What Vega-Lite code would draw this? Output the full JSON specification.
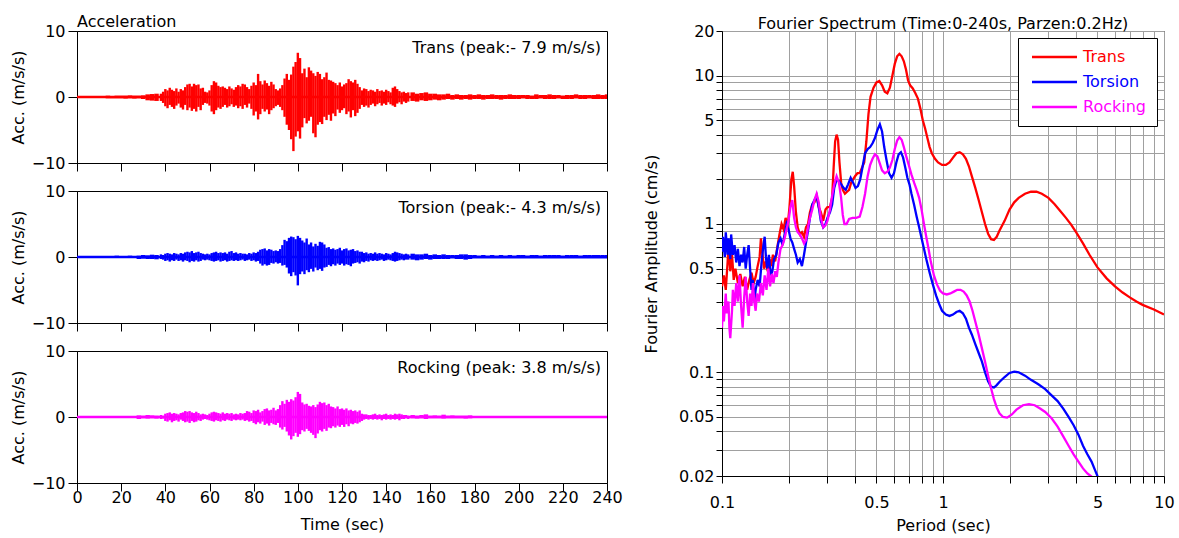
{
  "$schema": "https://vega.github.io/schema/vega-lite/v6.json",
  "background": "white",
  "padding": {"left": 9, "top": 13, "right": 5, "bottom": 5},
  "config": {
    "font": "DejaVu Sans",
    "view": {"stroke": "#000000", "strokeWidth": 1, "fill": "white"},
    "axis": {"labelFont": "DejaVu Sans", "titleFont": "DejaVu Sans", "labelFontSize": 16, "titleFontSize": 16, "titleFontWeight": "normal", "labelColor": "#000000", "titleColor": "#000000", "domainColor": "#000000", "tickColor": "#000000", "labelFlush": false, "labelOverlap": false, "grid": false},
    "title": {"font": "DejaVu Sans", "fontSize": 16, "fontWeight": "normal", "color": "#000000"}
  },
  "datasets": {
    "tc": [{"t":12,"l":-0.15,"h":0.15},{"t":14,"l":-0.2,"h":0.2},{"t":16,"l":-0.2,"h":0.15},{"t":18,"l":-0.2,"h":0.2},{"t":20,"l":-0.2,"h":0.2},{"t":22,"l":-0.25,"h":0.2},{"t":24,"l":-0.2,"h":0.25},{"t":26,"l":-0.25,"h":0.2},{"t":28,"l":-0.2,"h":0.2},{"t":30,"l":-0.3,"h":0.25},{"t":32,"l":-0.5,"h":0.4},{"t":34,"l":-0.55,"h":0.45},{"t":36,"l":-0.6,"h":0.5},
      {"t":152,"l":-0.6,"h":0.7},{"t":154,"l":-0.7,"h":0.5},{"t":156,"l":-0.5,"h":0.6},{"t":158,"l":-0.6,"h":0.7},{"t":160,"l":-0.5,"h":0.5},{"t":162,"l":-0.4,"h":0.5},{"t":164,"l":-0.5,"h":0.4},{"t":166,"l":-0.4,"h":0.4},{"t":168,"l":-0.3,"h":0.5},{"t":170,"l":-0.4,"h":0.3},{"t":172,"l":-0.3,"h":0.4},{"t":174,"l":-0.4,"h":0.3},{"t":176,"l":-0.3,"h":0.3},{"t":178,"l":-0.4,"h":0.4},{"t":180,"l":-0.3,"h":0.3},{"t":182,"l":-0.3,"h":0.4},{"t":184,"l":-0.4,"h":0.3},{"t":186,"l":-0.3,"h":0.3},{"t":188,"l":-0.3,"h":0.4},{"t":190,"l":-0.3,"h":0.3},{"t":192,"l":-0.4,"h":0.3},{"t":194,"l":-0.3,"h":0.3},{"t":196,"l":-0.3,"h":0.4},{"t":198,"l":-0.3,"h":0.3},{"t":200,"l":-0.3,"h":0.3},{"t":202,"l":-0.2,"h":0.3},{"t":204,"l":-0.3,"h":0.3},{"t":206,"l":-0.3,"h":0.2},{"t":208,"l":-0.3,"h":0.4},{"t":210,"l":-0.2,"h":0.3},{"t":212,"l":-0.3,"h":0.3},{"t":214,"l":-0.3,"h":0.4},{"t":216,"l":-0.3,"h":0.3},{"t":218,"l":-0.2,"h":0.3},{"t":220,"l":-0.3,"h":0.2},{"t":222,"l":-0.3,"h":0.3},{"t":224,"l":-0.3,"h":0.3},{"t":226,"l":-0.2,"h":0.4},{"t":228,"l":-0.3,"h":0.3},{"t":230,"l":-0.3,"h":0.3},{"t":232,"l":-0.2,"h":0.3},{"t":234,"l":-0.3,"h":0.3},{"t":236,"l":-0.3,"h":0.4},{"t":238,"l":-0.3,"h":0.3},{"t":240,"l":-0.3,"h":0.4}],
    "tf": [{"t":38,"l":-0.6,"h":0.5},{"t":39,"l":-0.9,"h":0.8},{"t":40,"l":-1.4,"h":1.2},{"t":41,"l":-1.7,"h":1.0},{"t":42,"l":-1.2,"h":1.4},{"t":43,"l":-1.5,"h":1.1},{"t":44,"l":-1.8,"h":0.9},{"t":45,"l":-1.3,"h":1.3},{"t":46,"l":-1.0,"h":0.8},{"t":47,"l":-1.6,"h":1.2},{"t":48,"l":-1.9,"h":1.0},{"t":49,"l":-1.2,"h":1.5},{"t":50,"l":-2.0,"h":1.9},{"t":51,"l":-1.6,"h":2.0},{"t":52,"l":-2.1,"h":1.6},{"t":53,"l":-1.8,"h":2.0},{"t":54,"l":-2.2,"h":1.8},{"t":55,"l":-1.5,"h":1.9},{"t":56,"l":-2.0,"h":1.3},{"t":57,"l":-1.2,"h":1.4},{"t":58,"l":-0.9,"h":0.8},{"t":59,"l":-1.0,"h":0.7},{"t":60,"l":-1.3,"h":1.0},{"t":61,"l":-2.2,"h":1.8},{"t":62,"l":-2.6,"h":2.4},{"t":63,"l":-2.0,"h":2.2},{"t":64,"l":-1.6,"h":1.7},{"t":65,"l":-1.8,"h":1.5},{"t":66,"l":-1.5,"h":1.6},{"t":67,"l":-1.2,"h":1.4},{"t":68,"l":-1.6,"h":1.2},{"t":69,"l":-1.4,"h":1.6},{"t":70,"l":-1.1,"h":1.3},{"t":71,"l":-1.5,"h":1.1},{"t":72,"l":-1.3,"h":1.5},{"t":73,"l":-1.7,"h":1.8},{"t":74,"l":-1.4,"h":1.6},{"t":75,"l":-1.8,"h":2.0},{"t":76,"l":-1.2,"h":1.9},{"t":77,"l":-1.6,"h":1.5},{"t":78,"l":-1.0,"h":1.2},{"t":79,"l":-1.8,"h":1.7},{"t":80,"l":-2.8,"h":2.2},{"t":81,"l":-2.2,"h":1.8},{"t":82,"l":-3.4,"h":3.5},{"t":83,"l":-2.6,"h":2.4},{"t":84,"l":-1.8,"h":1.9},{"t":85,"l":-2.2,"h":2.5},{"t":86,"l":-1.9,"h":2.1},{"t":87,"l":-2.6,"h":1.7},{"t":88,"l":-2.0,"h":2.3},{"t":89,"l":-1.7,"h":1.9},{"t":90,"l":-1.4,"h":1.2},{"t":91,"l":-1.2,"h":1.0},{"t":92,"l":-1.5,"h":1.3},{"t":93,"l":-2.0,"h":1.8},{"t":94,"l":-3.0,"h":2.8},{"t":95,"l":-4.2,"h":3.5},{"t":96,"l":-5.0,"h":2.6},{"t":97,"l":-6.4,"h":3.4},{"t":98,"l":-8.2,"h":4.6},{"t":99,"l":-6.0,"h":5.3},{"t":100,"l":-5.2,"h":6.7},{"t":101,"l":-6.3,"h":5.9},{"t":102,"l":-4.6,"h":3.6},{"t":103,"l":-3.2,"h":4.3},{"t":104,"l":-4.0,"h":3.0},{"t":105,"l":-3.6,"h":4.5},{"t":106,"l":-3.0,"h":4.0},{"t":107,"l":-5.5,"h":3.6},{"t":108,"l":-6.1,"h":3.2},{"t":109,"l":-4.2,"h":3.8},{"t":110,"l":-3.8,"h":3.5},{"t":111,"l":-4.1,"h":2.7},{"t":112,"l":-3.0,"h":3.0},{"t":113,"l":-3.5,"h":3.7},{"t":114,"l":-2.7,"h":2.6},{"t":115,"l":-3.6,"h":2.5},{"t":116,"l":-2.5,"h":2.3},{"t":117,"l":-2.9,"h":2.1},{"t":118,"l":-1.9,"h":1.8},{"t":119,"l":-2.4,"h":2.2},{"t":120,"l":-2.0,"h":1.6},{"t":121,"l":-1.7,"h":1.9},{"t":122,"l":-2.6,"h":2.1},{"t":123,"l":-2.2,"h":2.7},{"t":124,"l":-3.1,"h":2.4},{"t":125,"l":-2.0,"h":2.2},{"t":126,"l":-2.9,"h":2.6},{"t":127,"l":-2.4,"h":2.0},{"t":128,"l":-1.8,"h":1.5},{"t":129,"l":-1.2,"h":1.0},{"t":130,"l":-1.5,"h":1.3},{"t":131,"l":-1.3,"h":1.2},{"t":132,"l":-1.6,"h":0.9},{"t":133,"l":-1.2,"h":1.1},{"t":134,"l":-1.0,"h":1.0},{"t":135,"l":-1.4,"h":0.8},{"t":136,"l":-1.1,"h":1.2},{"t":137,"l":-0.9,"h":0.9},{"t":138,"l":-1.3,"h":1.0},{"t":139,"l":-1.0,"h":0.8},{"t":140,"l":-1.2,"h":1.1},{"t":141,"l":-0.8,"h":0.9},{"t":142,"l":-1.1,"h":0.7},{"t":143,"l":-1.3,"h":1.4},{"t":144,"l":-1.5,"h":1.6},{"t":145,"l":-1.0,"h":1.2},{"t":146,"l":-0.8,"h":0.9},{"t":147,"l":-1.1,"h":0.7},{"t":148,"l":-0.7,"h":0.8},{"t":149,"l":-0.9,"h":0.6},{"t":150,"l":-0.7,"h":0.7}],
    "oc": [{"t":12,"l":-0.1,"h":0.15},{"t":14,"l":-0.15,"h":0.15},{"t":16,"l":-0.1,"h":0.1},{"t":18,"l":-0.15,"h":0.2},{"t":20,"l":-0.1,"h":0.15},{"t":22,"l":-0.15,"h":0.15},{"t":24,"l":-0.1,"h":0.2},{"t":26,"l":-0.15,"h":0.15},{"t":28,"l":-0.3,"h":0.2},{"t":30,"l":-0.25,"h":0.3},{"t":32,"l":-0.3,"h":0.25},{"t":34,"l":-0.3,"h":0.35},{"t":36,"l":-0.35,"h":0.3},
      {"t":152,"l":-0.4,"h":0.5},{"t":154,"l":-0.5,"h":0.4},{"t":156,"l":-0.4,"h":0.4},{"t":158,"l":-0.3,"h":0.5},{"t":160,"l":-0.4,"h":0.3},{"t":162,"l":-0.3,"h":0.4},{"t":164,"l":-0.3,"h":0.3},{"t":166,"l":-0.3,"h":0.4},{"t":168,"l":-0.3,"h":0.3},{"t":170,"l":-0.2,"h":0.3},{"t":172,"l":-0.3,"h":0.3},{"t":174,"l":-0.3,"h":0.4},{"t":176,"l":-0.4,"h":0.4},{"t":178,"l":-0.3,"h":0.3},{"t":180,"l":-0.2,"h":0.3},{"t":182,"l":-0.2,"h":0.2},{"t":184,"l":-0.2,"h":0.3},{"t":186,"l":-0.2,"h":0.2},{"t":188,"l":-0.2,"h":0.3},{"t":190,"l":-0.2,"h":0.2},{"t":192,"l":-0.2,"h":0.3},{"t":194,"l":-0.2,"h":0.2},{"t":196,"l":-0.2,"h":0.3},{"t":198,"l":-0.2,"h":0.2},{"t":200,"l":-0.2,"h":0.3},{"t":202,"l":-0.2,"h":0.3},{"t":204,"l":-0.2,"h":0.2},{"t":206,"l":-0.2,"h":0.3},{"t":208,"l":-0.2,"h":0.3},{"t":210,"l":-0.2,"h":0.2},{"t":212,"l":-0.2,"h":0.3},{"t":214,"l":-0.2,"h":0.3},{"t":216,"l":-0.2,"h":0.3},{"t":218,"l":-0.2,"h":0.3},{"t":220,"l":-0.2,"h":0.2},{"t":222,"l":-0.2,"h":0.3},{"t":224,"l":-0.2,"h":0.3},{"t":226,"l":-0.2,"h":0.3},{"t":228,"l":-0.2,"h":0.2},{"t":230,"l":-0.2,"h":0.3},{"t":232,"l":-0.2,"h":0.3},{"t":234,"l":-0.2,"h":0.3},{"t":236,"l":-0.2,"h":0.3},{"t":238,"l":-0.2,"h":0.3},{"t":240,"l":-0.2,"h":0.3}],
    "of": [{"t":38,"l":-0.3,"h":0.4},{"t":39,"l":-0.4,"h":0.3},{"t":40,"l":-0.6,"h":0.5},{"t":41,"l":-0.5,"h":0.6},{"t":42,"l":-0.7,"h":0.5},{"t":43,"l":-0.5,"h":0.4},{"t":44,"l":-0.6,"h":0.6},{"t":45,"l":-0.4,"h":0.5},{"t":46,"l":-0.6,"h":0.4},{"t":47,"l":-0.5,"h":0.6},{"t":48,"l":-0.7,"h":0.5},{"t":49,"l":-0.5,"h":0.7},{"t":50,"l":-0.6,"h":0.8},{"t":51,"l":-0.8,"h":0.7},{"t":52,"l":-0.6,"h":0.9},{"t":53,"l":-0.7,"h":0.6},{"t":54,"l":-0.5,"h":0.7},{"t":55,"l":-0.7,"h":0.8},{"t":56,"l":-0.6,"h":0.6},{"t":57,"l":-0.4,"h":0.5},{"t":58,"l":-0.5,"h":0.4},{"t":59,"l":-0.4,"h":0.5},{"t":60,"l":-0.5,"h":0.4},{"t":61,"l":-0.6,"h":0.6},{"t":62,"l":-0.7,"h":0.7},{"t":63,"l":-0.6,"h":0.8},{"t":64,"l":-0.5,"h":0.6},{"t":65,"l":-0.7,"h":0.7},{"t":66,"l":-0.6,"h":0.6},{"t":67,"l":-0.5,"h":0.7},{"t":68,"l":-0.7,"h":0.5},{"t":69,"l":-0.6,"h":0.8},{"t":70,"l":-0.5,"h":0.9},{"t":71,"l":-0.6,"h":0.6},{"t":72,"l":-0.5,"h":0.7},{"t":73,"l":-0.6,"h":0.5},{"t":74,"l":-0.5,"h":0.6},{"t":75,"l":-0.4,"h":0.5},{"t":76,"l":-0.6,"h":0.5},{"t":77,"l":-0.5,"h":0.4},{"t":78,"l":-0.4,"h":0.6},{"t":79,"l":-0.6,"h":0.5},{"t":80,"l":-0.5,"h":0.7},{"t":81,"l":-0.7,"h":0.6},{"t":82,"l":-0.6,"h":0.8},{"t":83,"l":-1.0,"h":1.1},{"t":84,"l":-1.3,"h":1.2},{"t":85,"l":-1.1,"h":1.3},{"t":86,"l":-1.3,"h":1.0},{"t":87,"l":-1.2,"h":1.2},{"t":88,"l":-0.9,"h":1.1},{"t":89,"l":-1.0,"h":0.9},{"t":90,"l":-0.8,"h":1.0},{"t":91,"l":-1.0,"h":0.9},{"t":92,"l":-0.9,"h":1.2},{"t":93,"l":-1.3,"h":1.8},{"t":94,"l":-1.2,"h":2.6},{"t":95,"l":-1.6,"h":2.4},{"t":96,"l":-2.5,"h":2.9},{"t":97,"l":-2.9,"h":3.1},{"t":98,"l":-2.3,"h":3.0},{"t":99,"l":-2.8,"h":2.7},{"t":100,"l":-4.3,"h":3.2},{"t":101,"l":-2.6,"h":2.9},{"t":102,"l":-2.2,"h":2.5},{"t":103,"l":-2.6,"h":2.2},{"t":104,"l":-2.0,"h":2.8},{"t":105,"l":-2.3,"h":1.9},{"t":106,"l":-1.8,"h":2.2},{"t":107,"l":-2.2,"h":1.6},{"t":108,"l":-1.6,"h":2.0},{"t":109,"l":-2.0,"h":1.7},{"t":110,"l":-1.8,"h":2.3},{"t":111,"l":-2.1,"h":2.2},{"t":112,"l":-1.6,"h":1.9},{"t":113,"l":-1.5,"h":1.4},{"t":114,"l":-1.2,"h":1.5},{"t":115,"l":-1.4,"h":1.2},{"t":116,"l":-1.1,"h":1.3},{"t":117,"l":-1.3,"h":1.1},{"t":118,"l":-1.0,"h":1.2},{"t":119,"l":-1.2,"h":1.4},{"t":120,"l":-1.0,"h":1.0},{"t":121,"l":-1.3,"h":1.2},{"t":122,"l":-1.1,"h":1.3},{"t":123,"l":-1.2,"h":1.0},{"t":124,"l":-1.4,"h":1.1},{"t":125,"l":-1.0,"h":1.2},{"t":126,"l":-0.9,"h":0.9},{"t":127,"l":-0.8,"h":1.0},{"t":128,"l":-1.0,"h":0.8},{"t":129,"l":-0.7,"h":0.8},{"t":130,"l":-0.8,"h":0.6},{"t":131,"l":-0.6,"h":0.7},{"t":132,"l":-0.7,"h":0.5},{"t":133,"l":-0.5,"h":0.6},{"t":134,"l":-0.6,"h":0.5},{"t":135,"l":-0.5,"h":0.7},{"t":136,"l":-0.6,"h":0.5},{"t":137,"l":-0.5,"h":0.6},{"t":138,"l":-0.4,"h":0.5},{"t":139,"l":-0.6,"h":0.4},{"t":140,"l":-0.5,"h":0.6},{"t":141,"l":-0.4,"h":0.5},{"t":142,"l":-0.5,"h":0.4},{"t":143,"l":-0.6,"h":0.6},{"t":144,"l":-0.7,"h":0.8},{"t":145,"l":-0.6,"h":0.7},{"t":146,"l":-0.5,"h":0.6},{"t":147,"l":-0.4,"h":0.5},{"t":148,"l":-0.5,"h":0.4},{"t":149,"l":-0.4,"h":0.5},{"t":150,"l":-0.4,"h":0.4}],
    "rc": [{"t":26,"l":-0.15,"h":0.15},{"t":28,"l":-0.3,"h":0.25},{"t":30,"l":-0.2,"h":0.2},{"t":32,"l":-0.25,"h":0.3},{"t":34,"l":-0.2,"h":0.25},{"t":36,"l":-0.25,"h":0.2},
      {"t":152,"l":-0.2,"h":0.3},{"t":154,"l":-0.25,"h":0.2},{"t":156,"l":-0.2,"h":0.3},{"t":158,"l":-0.3,"h":0.4},{"t":160,"l":-0.2,"h":0.2},{"t":162,"l":-0.2,"h":0.25},{"t":164,"l":-0.2,"h":0.2},{"t":166,"l":-0.25,"h":0.35},{"t":168,"l":-0.2,"h":0.2},{"t":170,"l":-0.2,"h":0.25},{"t":172,"l":-0.2,"h":0.2},{"t":174,"l":-0.2,"h":0.2},{"t":176,"l":-0.25,"h":0.2},{"t":178,"l":-0.2,"h":0.25},{"t":180,"l":-0.15,"h":0.15}],
    "rf": [{"t":38,"l":-0.3,"h":0.3},{"t":39,"l":-0.25,"h":0.2},{"t":40,"l":-0.6,"h":0.5},{"t":41,"l":-0.7,"h":0.6},{"t":42,"l":-0.5,"h":0.7},{"t":43,"l":-0.8,"h":0.5},{"t":44,"l":-0.6,"h":0.6},{"t":45,"l":-0.5,"h":0.5},{"t":46,"l":-0.7,"h":0.4},{"t":47,"l":-0.4,"h":0.6},{"t":48,"l":-0.6,"h":0.7},{"t":49,"l":-0.8,"h":0.9},{"t":50,"l":-0.7,"h":0.8},{"t":51,"l":-0.9,"h":0.9},{"t":52,"l":-0.6,"h":0.7},{"t":53,"l":-0.8,"h":0.6},{"t":54,"l":-0.7,"h":0.8},{"t":55,"l":-0.5,"h":0.6},{"t":56,"l":-0.6,"h":0.4},{"t":57,"l":-0.4,"h":0.5},{"t":58,"l":-0.3,"h":0.4},{"t":59,"l":-0.4,"h":0.3},{"t":60,"l":-0.5,"h":0.5},{"t":61,"l":-0.6,"h":0.7},{"t":62,"l":-0.7,"h":0.8},{"t":63,"l":-0.5,"h":0.7},{"t":64,"l":-0.6,"h":0.6},{"t":65,"l":-0.7,"h":0.5},{"t":66,"l":-0.5,"h":0.7},{"t":67,"l":-0.6,"h":0.5},{"t":68,"l":-0.4,"h":0.6},{"t":69,"l":-0.5,"h":0.5},{"t":70,"l":-0.6,"h":0.6},{"t":71,"l":-0.4,"h":0.4},{"t":72,"l":-0.5,"h":0.5},{"t":73,"l":-0.4,"h":0.4},{"t":74,"l":-0.5,"h":0.6},{"t":75,"l":-0.4,"h":0.5},{"t":76,"l":-0.6,"h":0.6},{"t":77,"l":-0.5,"h":0.9},{"t":78,"l":-0.7,"h":0.8},{"t":79,"l":-0.6,"h":0.6},{"t":80,"l":-0.9,"h":1.0},{"t":81,"l":-1.1,"h":0.9},{"t":82,"l":-0.8,"h":1.1},{"t":83,"l":-1.0,"h":0.7},{"t":84,"l":-0.7,"h":0.9},{"t":85,"l":-1.2,"h":1.2},{"t":86,"l":-1.0,"h":1.3},{"t":87,"l":-1.3,"h":1.0},{"t":88,"l":-0.9,"h":1.1},{"t":89,"l":-1.1,"h":1.4},{"t":90,"l":-1.2,"h":1.0},{"t":91,"l":-0.9,"h":1.2},{"t":92,"l":-1.6,"h":1.8},{"t":93,"l":-1.9,"h":2.4},{"t":94,"l":-1.5,"h":2.0},{"t":95,"l":-2.2,"h":2.6},{"t":96,"l":-2.8,"h":2.3},{"t":97,"l":-3.4,"h":2.7},{"t":98,"l":-2.9,"h":2.5},{"t":99,"l":-2.4,"h":3.0},{"t":100,"l":-3.0,"h":3.8},{"t":101,"l":-2.6,"h":3.5},{"t":102,"l":-2.0,"h":2.2},{"t":103,"l":-2.2,"h":1.9},{"t":104,"l":-1.8,"h":2.0},{"t":105,"l":-2.1,"h":1.7},{"t":106,"l":-2.4,"h":1.6},{"t":107,"l":-2.7,"h":1.8},{"t":108,"l":-3.2,"h":1.5},{"t":109,"l":-2.5,"h":1.9},{"t":110,"l":-2.0,"h":2.3},{"t":111,"l":-2.2,"h":2.1},{"t":112,"l":-1.8,"h":2.2},{"t":113,"l":-2.1,"h":1.8},{"t":114,"l":-1.6,"h":2.0},{"t":115,"l":-1.7,"h":1.6},{"t":116,"l":-1.4,"h":1.5},{"t":117,"l":-1.6,"h":1.3},{"t":118,"l":-1.3,"h":1.6},{"t":119,"l":-1.5,"h":1.2},{"t":120,"l":-1.2,"h":1.3},{"t":121,"l":-1.5,"h":1.1},{"t":122,"l":-1.1,"h":1.3},{"t":123,"l":-1.4,"h":1.0},{"t":124,"l":-1.0,"h":1.1},{"t":125,"l":-1.1,"h":0.9},{"t":126,"l":-0.9,"h":1.0},{"t":127,"l":-1.0,"h":0.8},{"t":128,"l":-0.8,"h":1.0},{"t":129,"l":-0.6,"h":0.5},{"t":130,"l":-0.4,"h":0.4},{"t":131,"l":-0.3,"h":0.4},{"t":132,"l":-0.4,"h":0.3},{"t":133,"l":-0.3,"h":0.3},{"t":134,"l":-0.4,"h":0.4},{"t":135,"l":-0.3,"h":0.5},{"t":136,"l":-0.4,"h":0.3},{"t":137,"l":-0.3,"h":0.4},{"t":138,"l":-0.5,"h":0.3},{"t":139,"l":-0.3,"h":0.4},{"t":140,"l":-0.4,"h":0.5},{"t":141,"l":-0.3,"h":0.3},{"t":142,"l":-0.4,"h":0.4},{"t":143,"l":-0.3,"h":0.3},{"t":144,"l":-0.4,"h":0.5},{"t":145,"l":-0.3,"h":0.4},{"t":146,"l":-0.5,"h":0.5},{"t":147,"l":-0.3,"h":0.4},{"t":148,"l":-0.3,"h":0.3},{"t":149,"l":-0.2,"h":0.3},{"t":150,"l":-0.3,"h":0.2}],
    "spec": [
      {"s":"Trans","p":0.1,"a":0.38},{"s":"Trans","p":0.102,"a":0.45},{"s":"Trans","p":0.104,"a":0.36},{"s":"Trans","p":0.106,"a":0.55},{"s":"Trans","p":0.107,"a":0.72},{"s":"Trans","p":0.109,"a":0.48},{"s":"Trans","p":0.111,"a":0.62},{"s":"Trans","p":0.113,"a":0.42},{"s":"Trans","p":0.115,"a":0.5},{"s":"Trans","p":0.118,"a":0.4},{"s":"Trans","p":0.121,"a":0.46},{"s":"Trans","p":0.124,"a":0.38},{"s":"Trans","p":0.127,"a":0.44},{"s":"Trans","p":0.13,"a":0.36},{"s":"Trans","p":0.133,"a":0.42},{"s":"Trans","p":0.136,"a":0.47},{"s":"Trans","p":0.139,"a":0.4},{"s":"Trans","p":0.142,"a":0.44},{"s":"Trans","p":0.145,"a":0.52},{"s":"Trans","p":0.148,"a":0.6},{"s":"Trans","p":0.15,"a":0.8},{"s":"Trans","p":0.152,"a":0.65},{"s":"Trans","p":0.155,"a":0.5},{"s":"Trans","p":0.158,"a":0.56},{"s":"Trans","p":0.161,"a":0.48},{"s":"Trans","p":0.164,"a":0.58},{"s":"Trans","p":0.167,"a":0.52},{"s":"Trans","p":0.17,"a":0.62},{"s":"Trans","p":0.174,"a":0.56},{"s":"Trans","p":0.178,"a":0.7},{"s":"Trans","p":0.182,"a":0.85},{"s":"Trans","p":0.186,"a":1.0},{"s":"Trans","p":0.19,"a":0.92},{"s":"Trans","p":0.194,"a":1.1},{"s":"Trans","p":0.198,"a":0.95},{"s":"Trans","p":0.202,"a":1.3},{"s":"Trans","p":0.206,"a":2.0},{"s":"Trans","p":0.209,"a":2.25},{"s":"Trans","p":0.212,"a":1.8},{"s":"Trans","p":0.216,"a":1.2},{"s":"Trans","p":0.22,"a":0.95},{"s":"Trans","p":0.225,"a":0.85},{"s":"Trans","p":0.23,"a":0.88},{"s":"Trans","p":0.235,"a":0.82},{"s":"Trans","p":0.24,"a":0.95},{"s":"Trans","p":0.245,"a":1.0},{"s":"Trans","p":0.25,"a":1.2},{"s":"Trans","p":0.256,"a":1.35},{"s":"Trans","p":0.262,"a":1.4},{"s":"Trans","p":0.268,"a":1.55},{"s":"Trans","p":0.274,"a":1.3},{"s":"Trans","p":0.28,"a":1.2},{"s":"Trans","p":0.287,"a":1.05},{"s":"Trans","p":0.294,"a":1.25},{"s":"Trans","p":0.3,"a":1.3},{"s":"Trans","p":0.308,"a":1.3},{"s":"Trans","p":0.315,"a":1.5},{"s":"Trans","p":0.32,"a":2.4},{"s":"Trans","p":0.325,"a":3.6},{"s":"Trans","p":0.33,"a":4.0},{"s":"Trans","p":0.335,"a":3.7},{"s":"Trans","p":0.34,"a":2.6},{"s":"Trans","p":0.346,"a":1.9},{"s":"Trans","p":0.352,"a":1.7},{"s":"Trans","p":0.36,"a":1.6},{"s":"Trans","p":0.368,"a":1.65},{"s":"Trans","p":0.376,"a":1.7},{"s":"Trans","p":0.384,"a":1.9},{"s":"Trans","p":0.392,"a":2.0},{"s":"Trans","p":0.4,"a":2.1},{"s":"Trans","p":0.41,"a":2.2},{"s":"Trans","p":0.42,"a":2.2},{"s":"Trans","p":0.43,"a":2.4},{"s":"Trans","p":0.44,"a":2.6},{"s":"Trans","p":0.45,"a":3.6},{"s":"Trans","p":0.46,"a":5.5},{"s":"Trans","p":0.47,"a":7.2},{"s":"Trans","p":0.485,"a":8.3},{"s":"Trans","p":0.5,"a":9.0},{"s":"Trans","p":0.515,"a":9.2},{"s":"Trans","p":0.53,"a":8.6},{"s":"Trans","p":0.545,"a":7.8},{"s":"Trans","p":0.56,"a":7.6},{"s":"Trans","p":0.575,"a":8.3},{"s":"Trans","p":0.59,"a":10.0},{"s":"Trans","p":0.605,"a":12.0},{"s":"Trans","p":0.62,"a":13.5},{"s":"Trans","p":0.635,"a":14.0},{"s":"Trans","p":0.65,"a":13.5},{"s":"Trans","p":0.665,"a":12.5},{"s":"Trans","p":0.68,"a":11.0},{"s":"Trans","p":0.695,"a":9.3},{"s":"Trans","p":0.71,"a":8.6},{"s":"Trans","p":0.73,"a":8.2},{"s":"Trans","p":0.75,"a":7.6},{"s":"Trans","p":0.77,"a":7.0},{"s":"Trans","p":0.79,"a":6.0},{"s":"Trans","p":0.81,"a":5.0},{"s":"Trans","p":0.83,"a":4.4},{"s":"Trans","p":0.85,"a":3.8},{"s":"Trans","p":0.87,"a":3.3},{"s":"Trans","p":0.89,"a":3.0},{"s":"Trans","p":0.92,"a":2.75},{"s":"Trans","p":0.95,"a":2.6},{"s":"Trans","p":0.99,"a":2.5},{"s":"Trans","p":1.03,"a":2.5},{"s":"Trans","p":1.07,"a":2.6},{"s":"Trans","p":1.11,"a":2.8},{"s":"Trans","p":1.15,"a":3.0},{"s":"Trans","p":1.19,"a":3.05},{"s":"Trans","p":1.23,"a":2.95},{"s":"Trans","p":1.27,"a":2.75},{"s":"Trans","p":1.31,"a":2.45},{"s":"Trans","p":1.35,"a":2.1},{"s":"Trans","p":1.4,"a":1.75},{"s":"Trans","p":1.45,"a":1.45},{"s":"Trans","p":1.5,"a":1.2},{"s":"Trans","p":1.55,"a":1.0},{"s":"Trans","p":1.6,"a":0.86},{"s":"Trans","p":1.65,"a":0.79},{"s":"Trans","p":1.7,"a":0.78},{"s":"Trans","p":1.75,"a":0.82},{"s":"Trans","p":1.8,"a":0.9},{"s":"Trans","p":1.9,"a":1.05},{"s":"Trans","p":2.0,"a":1.25},{"s":"Trans","p":2.1,"a":1.4},{"s":"Trans","p":2.2,"a":1.5},{"s":"Trans","p":2.35,"a":1.6},{"s":"Trans","p":2.5,"a":1.65},{"s":"Trans","p":2.65,"a":1.65},{"s":"Trans","p":2.8,"a":1.6},{"s":"Trans","p":3.0,"a":1.5},{"s":"Trans","p":3.2,"a":1.36},{"s":"Trans","p":3.4,"a":1.22},{"s":"Trans","p":3.6,"a":1.1},{"s":"Trans","p":3.8,"a":0.99},{"s":"Trans","p":4.0,"a":0.88},{"s":"Trans","p":4.3,"a":0.74},{"s":"Trans","p":4.6,"a":0.62},{"s":"Trans","p":5.0,"a":0.51},{"s":"Trans","p":5.5,"a":0.43},{"s":"Trans","p":6.0,"a":0.38},{"s":"Trans","p":6.5,"a":0.345},{"s":"Trans","p":7.0,"a":0.32},{"s":"Trans","p":7.5,"a":0.3},{"s":"Trans","p":8.0,"a":0.285},{"s":"Trans","p":9.0,"a":0.265},{"s":"Trans","p":10.0,"a":0.245},
      {"s":"Torsion","p":0.1,"a":0.65},{"s":"Torsion","p":0.101,"a":0.82},{"s":"Torsion","p":0.103,"a":0.6},{"s":"Torsion","p":0.104,"a":0.88},{"s":"Torsion","p":0.106,"a":0.62},{"s":"Torsion","p":0.107,"a":0.8},{"s":"Torsion","p":0.109,"a":0.58},{"s":"Torsion","p":0.11,"a":0.85},{"s":"Torsion","p":0.112,"a":0.62},{"s":"Torsion","p":0.114,"a":0.72},{"s":"Torsion","p":0.116,"a":0.55},{"s":"Torsion","p":0.118,"a":0.68},{"s":"Torsion","p":0.12,"a":0.52},{"s":"Torsion","p":0.122,"a":0.62},{"s":"Torsion","p":0.124,"a":0.55},{"s":"Torsion","p":0.126,"a":0.7},{"s":"Torsion","p":0.128,"a":0.5},{"s":"Torsion","p":0.13,"a":0.62},{"s":"Torsion","p":0.132,"a":0.72},{"s":"Torsion","p":0.134,"a":0.5},{"s":"Torsion","p":0.136,"a":0.36},{"s":"Torsion","p":0.138,"a":0.42},{"s":"Torsion","p":0.14,"a":0.3},{"s":"Torsion","p":0.142,"a":0.36},{"s":"Torsion","p":0.145,"a":0.42},{"s":"Torsion","p":0.148,"a":0.38},{"s":"Torsion","p":0.151,"a":0.55},{"s":"Torsion","p":0.154,"a":0.72},{"s":"Torsion","p":0.156,"a":0.82},{"s":"Torsion","p":0.158,"a":0.6},{"s":"Torsion","p":0.16,"a":0.5},{"s":"Torsion","p":0.163,"a":0.62},{"s":"Torsion","p":0.166,"a":0.45},{"s":"Torsion","p":0.169,"a":0.48},{"s":"Torsion","p":0.172,"a":0.58},{"s":"Torsion","p":0.176,"a":0.62},{"s":"Torsion","p":0.18,"a":0.75},{"s":"Torsion","p":0.184,"a":0.8},{"s":"Torsion","p":0.188,"a":0.72},{"s":"Torsion","p":0.192,"a":0.85},{"s":"Torsion","p":0.196,"a":1.0},{"s":"Torsion","p":0.2,"a":0.92},{"s":"Torsion","p":0.204,"a":0.8},{"s":"Torsion","p":0.208,"a":0.75},{"s":"Torsion","p":0.212,"a":0.68},{"s":"Torsion","p":0.216,"a":0.62},{"s":"Torsion","p":0.22,"a":0.55},{"s":"Torsion","p":0.225,"a":0.58},{"s":"Torsion","p":0.23,"a":0.52},{"s":"Torsion","p":0.235,"a":0.62},{"s":"Torsion","p":0.24,"a":0.75},{"s":"Torsion","p":0.245,"a":0.9},{"s":"Torsion","p":0.25,"a":1.1},{"s":"Torsion","p":0.256,"a":1.35},{"s":"Torsion","p":0.262,"a":1.45},{"s":"Torsion","p":0.268,"a":1.55},{"s":"Torsion","p":0.274,"a":1.3},{"s":"Torsion","p":0.28,"a":1.05},{"s":"Torsion","p":0.287,"a":0.95},{"s":"Torsion","p":0.294,"a":1.0},{"s":"Torsion","p":0.3,"a":1.1},{"s":"Torsion","p":0.308,"a":1.2},{"s":"Torsion","p":0.315,"a":1.35},{"s":"Torsion","p":0.322,"a":1.75},{"s":"Torsion","p":0.33,"a":2.0},{"s":"Torsion","p":0.338,"a":1.95},{"s":"Torsion","p":0.346,"a":1.85},{"s":"Torsion","p":0.355,"a":1.75},{"s":"Torsion","p":0.363,"a":1.7},{"s":"Torsion","p":0.372,"a":1.85},{"s":"Torsion","p":0.382,"a":2.05},{"s":"Torsion","p":0.392,"a":1.9},{"s":"Torsion","p":0.402,"a":1.75},{"s":"Torsion","p":0.412,"a":1.8},{"s":"Torsion","p":0.422,"a":2.0},{"s":"Torsion","p":0.432,"a":2.4},{"s":"Torsion","p":0.444,"a":3.0},{"s":"Torsion","p":0.456,"a":3.2},{"s":"Torsion","p":0.468,"a":3.3},{"s":"Torsion","p":0.48,"a":3.5},{"s":"Torsion","p":0.492,"a":3.8},{"s":"Torsion","p":0.505,"a":4.3},{"s":"Torsion","p":0.518,"a":4.7},{"s":"Torsion","p":0.53,"a":4.2},{"s":"Torsion","p":0.542,"a":3.3},{"s":"Torsion","p":0.555,"a":2.7},{"s":"Torsion","p":0.57,"a":2.2},{"s":"Torsion","p":0.585,"a":2.05},{"s":"Torsion","p":0.6,"a":2.2},{"s":"Torsion","p":0.615,"a":2.6},{"s":"Torsion","p":0.63,"a":2.95},{"s":"Torsion","p":0.645,"a":3.05},{"s":"Torsion","p":0.66,"a":2.8},{"s":"Torsion","p":0.675,"a":2.4},{"s":"Torsion","p":0.69,"a":2.05},{"s":"Torsion","p":0.705,"a":1.85},{"s":"Torsion","p":0.72,"a":1.6},{"s":"Torsion","p":0.74,"a":1.35},{"s":"Torsion","p":0.76,"a":1.12},{"s":"Torsion","p":0.78,"a":0.95},{"s":"Torsion","p":0.8,"a":0.8},{"s":"Torsion","p":0.82,"a":0.68},{"s":"Torsion","p":0.84,"a":0.58},{"s":"Torsion","p":0.87,"a":0.47},{"s":"Torsion","p":0.9,"a":0.39},{"s":"Torsion","p":0.93,"a":0.33},{"s":"Torsion","p":0.96,"a":0.29},{"s":"Torsion","p":0.99,"a":0.26},{"s":"Torsion","p":1.03,"a":0.245},{"s":"Torsion","p":1.07,"a":0.24},{"s":"Torsion","p":1.11,"a":0.245},{"s":"Torsion","p":1.15,"a":0.255},{"s":"Torsion","p":1.19,"a":0.26},{"s":"Torsion","p":1.23,"a":0.25},{"s":"Torsion","p":1.27,"a":0.23},{"s":"Torsion","p":1.31,"a":0.2},{"s":"Torsion","p":1.35,"a":0.18},{"s":"Torsion","p":1.4,"a":0.155},{"s":"Torsion","p":1.45,"a":0.135},{"s":"Torsion","p":1.5,"a":0.118},{"s":"Torsion","p":1.55,"a":0.1},{"s":"Torsion","p":1.6,"a":0.087},{"s":"Torsion","p":1.65,"a":0.08},{"s":"Torsion","p":1.7,"a":0.079},{"s":"Torsion","p":1.75,"a":0.082},{"s":"Torsion","p":1.8,"a":0.086},{"s":"Torsion","p":1.9,"a":0.093},{"s":"Torsion","p":2.0,"a":0.099},{"s":"Torsion","p":2.1,"a":0.101},{"s":"Torsion","p":2.2,"a":0.1},{"s":"Torsion","p":2.35,"a":0.095},{"s":"Torsion","p":2.5,"a":0.089},{"s":"Torsion","p":2.7,"a":0.083},{"s":"Torsion","p":2.9,"a":0.077},{"s":"Torsion","p":3.1,"a":0.07},{"s":"Torsion","p":3.3,"a":0.064},{"s":"Torsion","p":3.5,"a":0.057},{"s":"Torsion","p":3.7,"a":0.05},{"s":"Torsion","p":3.9,"a":0.044},{"s":"Torsion","p":4.1,"a":0.038},{"s":"Torsion","p":4.3,"a":0.032},{"s":"Torsion","p":4.5,"a":0.028},{"s":"Torsion","p":4.7,"a":0.025},{"s":"Torsion","p":4.9,"a":0.0215},{"s":"Torsion","p":5.0,"a":0.02},{"s":"Torsion","p":5.1,"a":0.019},
      {"s":"Rocking","p":0.1,"a":0.2},{"s":"Rocking","p":0.101,"a":0.28},{"s":"Rocking","p":0.102,"a":0.22},{"s":"Rocking","p":0.104,"a":0.34},{"s":"Rocking","p":0.105,"a":0.25},{"s":"Rocking","p":0.107,"a":0.3},{"s":"Rocking","p":0.108,"a":0.2},{"s":"Rocking","p":0.109,"a":0.17},{"s":"Rocking","p":0.111,"a":0.26},{"s":"Rocking","p":0.112,"a":0.36},{"s":"Rocking","p":0.114,"a":0.28},{"s":"Rocking","p":0.116,"a":0.4},{"s":"Rocking","p":0.118,"a":0.3},{"s":"Rocking","p":0.12,"a":0.45},{"s":"Rocking","p":0.122,"a":0.28},{"s":"Rocking","p":0.124,"a":0.2},{"s":"Rocking","p":0.126,"a":0.32},{"s":"Rocking","p":0.128,"a":0.44},{"s":"Rocking","p":0.13,"a":0.3},{"s":"Rocking","p":0.132,"a":0.24},{"s":"Rocking","p":0.134,"a":0.34},{"s":"Rocking","p":0.136,"a":0.28},{"s":"Rocking","p":0.138,"a":0.4},{"s":"Rocking","p":0.14,"a":0.3},{"s":"Rocking","p":0.142,"a":0.26},{"s":"Rocking","p":0.144,"a":0.34},{"s":"Rocking","p":0.147,"a":0.3},{"s":"Rocking","p":0.15,"a":0.4},{"s":"Rocking","p":0.153,"a":0.33},{"s":"Rocking","p":0.156,"a":0.45},{"s":"Rocking","p":0.159,"a":0.36},{"s":"Rocking","p":0.162,"a":0.5},{"s":"Rocking","p":0.165,"a":0.38},{"s":"Rocking","p":0.168,"a":0.46},{"s":"Rocking","p":0.171,"a":0.4},{"s":"Rocking","p":0.174,"a":0.48},{"s":"Rocking","p":0.177,"a":0.44},{"s":"Rocking","p":0.18,"a":0.55},{"s":"Rocking","p":0.184,"a":0.68},{"s":"Rocking","p":0.188,"a":0.72},{"s":"Rocking","p":0.192,"a":0.8},{"s":"Rocking","p":0.196,"a":0.92},{"s":"Rocking","p":0.2,"a":1.05},{"s":"Rocking","p":0.204,"a":1.3},{"s":"Rocking","p":0.208,"a":1.45},{"s":"Rocking","p":0.212,"a":1.1},{"s":"Rocking","p":0.216,"a":0.95},{"s":"Rocking","p":0.22,"a":0.88},{"s":"Rocking","p":0.225,"a":0.85},{"s":"Rocking","p":0.23,"a":0.8},{"s":"Rocking","p":0.235,"a":0.74},{"s":"Rocking","p":0.24,"a":0.78},{"s":"Rocking","p":0.245,"a":0.95},{"s":"Rocking","p":0.25,"a":1.1},{"s":"Rocking","p":0.256,"a":1.25},{"s":"Rocking","p":0.262,"a":1.45},{"s":"Rocking","p":0.268,"a":1.6},{"s":"Rocking","p":0.274,"a":1.4},{"s":"Rocking","p":0.28,"a":1.1},{"s":"Rocking","p":0.287,"a":0.95},{"s":"Rocking","p":0.294,"a":0.98},{"s":"Rocking","p":0.3,"a":1.05},{"s":"Rocking","p":0.308,"a":1.25},{"s":"Rocking","p":0.315,"a":1.55},{"s":"Rocking","p":0.322,"a":1.85},{"s":"Rocking","p":0.33,"a":2.1},{"s":"Rocking","p":0.338,"a":1.9},{"s":"Rocking","p":0.346,"a":1.5},{"s":"Rocking","p":0.352,"a":1.15},{"s":"Rocking","p":0.358,"a":1.0},{"s":"Rocking","p":0.366,"a":1.0},{"s":"Rocking","p":0.376,"a":1.08},{"s":"Rocking","p":0.39,"a":1.1},{"s":"Rocking","p":0.405,"a":1.1},{"s":"Rocking","p":0.42,"a":1.12},{"s":"Rocking","p":0.432,"a":1.3},{"s":"Rocking","p":0.444,"a":1.6},{"s":"Rocking","p":0.456,"a":2.1},{"s":"Rocking","p":0.468,"a":2.5},{"s":"Rocking","p":0.48,"a":2.75},{"s":"Rocking","p":0.492,"a":2.95},{"s":"Rocking","p":0.505,"a":2.85},{"s":"Rocking","p":0.518,"a":2.55},{"s":"Rocking","p":0.53,"a":2.3},{"s":"Rocking","p":0.545,"a":2.2},{"s":"Rocking","p":0.56,"a":2.25},{"s":"Rocking","p":0.575,"a":2.4},{"s":"Rocking","p":0.59,"a":2.7},{"s":"Rocking","p":0.605,"a":3.2},{"s":"Rocking","p":0.62,"a":3.65},{"s":"Rocking","p":0.635,"a":3.85},{"s":"Rocking","p":0.65,"a":3.7},{"s":"Rocking","p":0.665,"a":3.3},{"s":"Rocking","p":0.68,"a":2.9},{"s":"Rocking","p":0.7,"a":2.5},{"s":"Rocking","p":0.72,"a":2.15},{"s":"Rocking","p":0.74,"a":1.9},{"s":"Rocking","p":0.76,"a":1.7},{"s":"Rocking","p":0.78,"a":1.5},{"s":"Rocking","p":0.8,"a":1.25},{"s":"Rocking","p":0.82,"a":1.0},{"s":"Rocking","p":0.84,"a":0.82},{"s":"Rocking","p":0.86,"a":0.68},{"s":"Rocking","p":0.88,"a":0.56},{"s":"Rocking","p":0.91,"a":0.45},{"s":"Rocking","p":0.94,"a":0.39},{"s":"Rocking","p":0.97,"a":0.355},{"s":"Rocking","p":1.0,"a":0.34},{"s":"Rocking","p":1.04,"a":0.335},{"s":"Rocking","p":1.08,"a":0.34},{"s":"Rocking","p":1.12,"a":0.35},{"s":"Rocking","p":1.16,"a":0.36},{"s":"Rocking","p":1.2,"a":0.36},{"s":"Rocking","p":1.24,"a":0.35},{"s":"Rocking","p":1.28,"a":0.33},{"s":"Rocking","p":1.32,"a":0.3},{"s":"Rocking","p":1.36,"a":0.26},{"s":"Rocking","p":1.4,"a":0.22},{"s":"Rocking","p":1.45,"a":0.18},{"s":"Rocking","p":1.5,"a":0.145},{"s":"Rocking","p":1.55,"a":0.118},{"s":"Rocking","p":1.6,"a":0.095},{"s":"Rocking","p":1.65,"a":0.078},{"s":"Rocking","p":1.7,"a":0.066},{"s":"Rocking","p":1.75,"a":0.058},{"s":"Rocking","p":1.8,"a":0.053},{"s":"Rocking","p":1.87,"a":0.05},{"s":"Rocking","p":1.95,"a":0.0495},{"s":"Rocking","p":2.05,"a":0.052},{"s":"Rocking","p":2.15,"a":0.056},{"s":"Rocking","p":2.3,"a":0.06},{"s":"Rocking","p":2.45,"a":0.061},{"s":"Rocking","p":2.6,"a":0.06},{"s":"Rocking","p":2.75,"a":0.057},{"s":"Rocking","p":2.9,"a":0.054},{"s":"Rocking","p":3.1,"a":0.049},{"s":"Rocking","p":3.3,"a":0.043},{"s":"Rocking","p":3.5,"a":0.037},{"s":"Rocking","p":3.7,"a":0.032},{"s":"Rocking","p":3.9,"a":0.028},{"s":"Rocking","p":4.1,"a":0.025},{"s":"Rocking","p":4.3,"a":0.0225},{"s":"Rocking","p":4.5,"a":0.0208},{"s":"Rocking","p":4.7,"a":0.0198},{"s":"Rocking","p":4.8,"a":0.019}
    ]
  },
  "hconcat": [
    {
      "vconcat": [
        {
          "width": 530, "height": 132,
          "title": {"text": "Acceleration", "anchor": "start", "frame": "group", "offset": -7},
          "layer": [
            {"data": {"values": [{}]}, "mark": {"type": "rule", "color": "#ff0000", "strokeWidth": 2.5}, "encoding": {"y": {"datum": 0, "type": "quantitative"}}},
            {"data": {"name": "tf"}, "mark": {"type": "rule", "color": "#ff0000", "strokeWidth": 2.4, "clip": true},
             "encoding": {
               "x": {"field": "t", "type": "quantitative", "scale": {"domain": [0, 240], "nice": false}, "axis": {"title": null, "values": [0,10,20,30,40,50,60,70,80,90,100,110,120,130,140,150,160,170,180,190,200,210,220,230,240], "labels": false, "tickSize": 8}},
               "y": {"field": "l", "type": "quantitative", "scale": {"domain": [-10, 10], "nice": false}, "axis": {"title": "Acc. (m/s/s)", "values": [-10,-5,0,5,10], "labelExpr": "datum.value % 10 == 0 ? datum.label : ''", "tickSize": 9, "labelPadding": 3, "titlePadding": 5}},
               "y2": {"field": "h"}}},
            {"data": {"name": "tc"}, "mark": {"type": "rule", "color": "#ff0000", "strokeWidth": 4.5, "clip": true},
             "encoding": {
               "x": {"field": "t", "type": "quantitative", "scale": {"domain": [0, 240], "nice": false}, "axis": {"title": null, "values": [0,10,20,30,40,50,60,70,80,90,100,110,120,130,140,150,160,170,180,190,200,210,220,230,240], "labels": false, "tickSize": 8}},
               "y": {"field": "l", "type": "quantitative", "scale": {"domain": [-10, 10], "nice": false}, "axis": {"title": "Acc. (m/s/s)", "values": [-10,-5,0,5,10], "labelExpr": "datum.value % 10 == 0 ? datum.label : ''", "tickSize": 9, "labelPadding": 3, "titlePadding": 5}},
               "y2": {"field": "h"}}},
            {"data": {"values": [{}]}, "mark": {"type": "text", "align": "right", "baseline": "middle", "dx": -6, "fontSize": 16, "color": "#000000"},
             "encoding": {"x": {"datum": 240, "type": "quantitative"}, "y": {"datum": 7.5, "type": "quantitative"}, "text": {"value": "Trans (peak:- 7.9 m/s/s)"}}}
          ]
        },
        {
          "width": 530, "height": 132,
          "layer": [
            {"data": {"values": [{}]}, "mark": {"type": "rule", "color": "#0000ff", "strokeWidth": 2.5}, "encoding": {"y": {"datum": 0, "type": "quantitative"}}},
            {"data": {"name": "of"}, "mark": {"type": "rule", "color": "#0000ff", "strokeWidth": 2.4, "clip": true},
             "encoding": {
               "x": {"field": "t", "type": "quantitative", "scale": {"domain": [0, 240], "nice": false}, "axis": {"title": null, "values": [0,10,20,30,40,50,60,70,80,90,100,110,120,130,140,150,160,170,180,190,200,210,220,230,240], "labels": false, "tickSize": 8}},
               "y": {"field": "l", "type": "quantitative", "scale": {"domain": [-10, 10], "nice": false}, "axis": {"title": "Acc. (m/s/s)", "values": [-10,-5,0,5,10], "labelExpr": "datum.value % 10 == 0 ? datum.label : ''", "tickSize": 9, "labelPadding": 3, "titlePadding": 5}},
               "y2": {"field": "h"}}},
            {"data": {"name": "oc"}, "mark": {"type": "rule", "color": "#0000ff", "strokeWidth": 4.5, "clip": true},
             "encoding": {
               "x": {"field": "t", "type": "quantitative", "scale": {"domain": [0, 240], "nice": false}, "axis": {"title": null, "values": [0,10,20,30,40,50,60,70,80,90,100,110,120,130,140,150,160,170,180,190,200,210,220,230,240], "labels": false, "tickSize": 8}},
               "y": {"field": "l", "type": "quantitative", "scale": {"domain": [-10, 10], "nice": false}, "axis": {"title": "Acc. (m/s/s)", "values": [-10,-5,0,5,10], "labelExpr": "datum.value % 10 == 0 ? datum.label : ''", "tickSize": 9, "labelPadding": 3, "titlePadding": 5}},
               "y2": {"field": "h"}}},
            {"data": {"values": [{}]}, "mark": {"type": "text", "align": "right", "baseline": "middle", "dx": -6, "fontSize": 16, "color": "#000000"},
             "encoding": {"x": {"datum": 240, "type": "quantitative"}, "y": {"datum": 7.5, "type": "quantitative"}, "text": {"value": "Torsion (peak:- 4.3 m/s/s)"}}}
          ]
        },
        {
          "width": 530, "height": 132,
          "layer": [
            {"data": {"values": [{}]}, "mark": {"type": "rule", "color": "#ff00ff", "strokeWidth": 2.5}, "encoding": {"y": {"datum": 0, "type": "quantitative"}}},
            {"data": {"name": "rf"}, "mark": {"type": "rule", "color": "#ff00ff", "strokeWidth": 2.4, "clip": true},
             "encoding": {
               "x": {"field": "t", "type": "quantitative", "scale": {"domain": [0, 240], "nice": false}, "axis": {"title": "Time (sec)", "values": [0,10,20,30,40,50,60,70,80,90,100,110,120,130,140,150,160,170,180,190,200,210,220,230,240], "labelExpr": "datum.value % 20 == 0 ? datum.label : ''", "tickSize": 8, "labelPadding": -2, "titlePadding": 11}},
               "y": {"field": "l", "type": "quantitative", "scale": {"domain": [-10, 10], "nice": false}, "axis": {"title": "Acc. (m/s/s)", "values": [-10,-5,0,5,10], "labelExpr": "datum.value % 10 == 0 ? datum.label : ''", "tickSize": 9, "labelPadding": 3, "titlePadding": 5}},
               "y2": {"field": "h"}}},
            {"data": {"name": "rc"}, "mark": {"type": "rule", "color": "#ff00ff", "strokeWidth": 4.5, "clip": true},
             "encoding": {
               "x": {"field": "t", "type": "quantitative", "scale": {"domain": [0, 240], "nice": false}, "axis": {"title": "Time (sec)", "values": [0,10,20,30,40,50,60,70,80,90,100,110,120,130,140,150,160,170,180,190,200,210,220,230,240], "labelExpr": "datum.value % 20 == 0 ? datum.label : ''", "tickSize": 8, "labelPadding": -2, "titlePadding": 11}},
               "y": {"field": "l", "type": "quantitative", "scale": {"domain": [-10, 10], "nice": false}, "axis": {"title": "Acc. (m/s/s)", "values": [-10,-5,0,5,10], "labelExpr": "datum.value % 10 == 0 ? datum.label : ''", "tickSize": 9, "labelPadding": 3, "titlePadding": 5}},
               "y2": {"field": "h"}}},
            {"data": {"values": [{}]}, "mark": {"type": "text", "align": "right", "baseline": "middle", "dx": -6, "fontSize": 16, "color": "#000000"},
             "encoding": {"x": {"datum": 240, "type": "quantitative"}, "y": {"datum": 7.5, "type": "quantitative"}, "text": {"value": "Rocking (peak: 3.8 m/s/s)"}}}
          ]
        }
      ],
      "spacing": 28,
      "bounds": "flush"
    },
    {
      "width": 442, "height": 445,
      "title": {"text": "Fourier Spectrum (Time:0-240s, Parzen:0.2Hz)", "frame": "group", "offset": -8.5},
      "data": {"name": "spec"},
      "mark": {"type": "line", "strokeWidth": 2.3, "clip": true},
      "encoding": {
        "x": {"field": "p", "type": "quantitative", "scale": {"type": "log", "domain": [0.1, 10], "nice": false},
              "axis": {"title": "Period (sec)", "values": [0.1,0.2,0.3,0.4,0.5,0.6,0.7,0.8,0.9,1,2,3,4,5,6,7,8,9,10], "labelExpr": "indexof([0.1,0.5,1,5,10], datum.value) >= 0 ? format(datum.value, '~g') : ''", "grid": true, "gridColor": "#a0a0a0", "gridOpacity": 1, "tickSize": 7, "labelPadding": 11, "titlePadding": 7}},
        "y": {"field": "a", "type": "quantitative", "scale": {"type": "log", "domain": [0.02, 20], "nice": false},
              "axis": {"title": "Fourier Amplitude (cm/s)", "values": [0.02,0.03,0.04,0.05,0.06,0.07,0.08,0.09,0.1,0.2,0.3,0.4,0.5,0.6,0.7,0.8,0.9,1,2,3,4,5,6,7,8,9,10,20], "labelExpr": "indexof([0.02,0.05,0.1,0.5,1,5,10,20], datum.value) >= 0 ? format(datum.value, '~g') : ''", "grid": true, "gridColor": "#a0a0a0", "gridOpacity": 1, "tickSize": 6, "labelPadding": 2, "titlePadding": 19}},
        "color": {"field": "s", "type": "nominal", "sort": ["Trans", "Torsion", "Rocking"], "scale": {"domain": ["Trans", "Torsion", "Rocking"], "range": ["#ff0000", "#0000ff", "#ff00ff"]},
                  "legend": {"title": null, "orient": "top-right", "offset": 7, "fillColor": "white", "strokeColor": "#000000", "padding": 11, "symbolType": "M-1,0H8", "symbolSize": 100, "symbolStrokeWidth": 2.5, "labelFontSize": 16, "labelFont": "DejaVu Sans", "labelOffset": 38, "rowPadding": 9, "labelColor": {"expr": "datum.label == 'Trans' ? '#ff0000' : datum.label == 'Torsion' ? '#0000ff' : '#ff00ff'"}}}
      }
    }
  ],
  "spacing": 19,
  "resolve": {"legend": {"color": "independent"}}
}
